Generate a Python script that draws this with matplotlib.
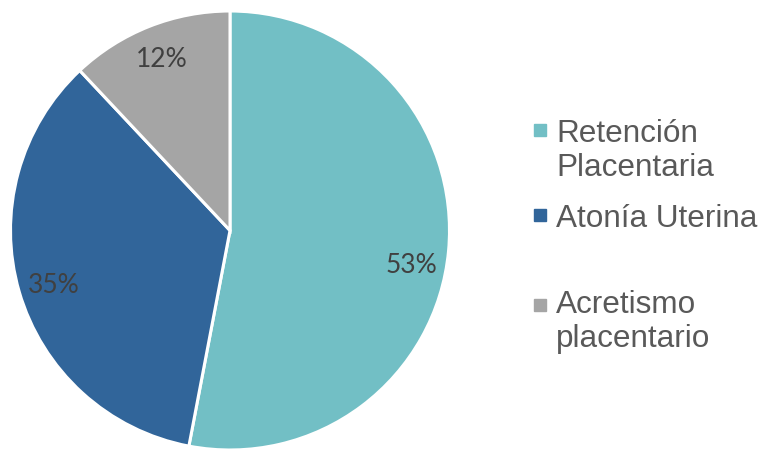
import matplotlib
matplotlib.use("Agg")
import matplotlib.pyplot as plt
import numpy as np

categories = ["Retención\nPlacentaria", "Atonía Uterina", "Acretismo\nplacentario"]
values = [53, 35, 12]
colors = ["#72BFC5", "#31659A", "#A5A5A5"]

W, H, DPI = 761, 449, 100
fig = plt.figure(figsize=(W / DPI, H / DPI), dpi=DPI)

cx, cy, r = 230, 230.5, 219.5
ax = fig.add_axes([(cx - r) / W, (H - cy - r) / H, 2 * r / W, 2 * r / H])

wedges, _ = ax.pie(values, colors=colors, startangle=90, counterclock=False,
                   wedgeprops=dict(edgecolor="white", linewidth=2.2))
ax.set_xlim(-1, 1)
ax.set_ylim(-1, 1)
ax.set_aspect("equal")
ax.axis("off")

# percentage labels, placed inside each wedge
label_font = dict(family="Lato", fontsize=19, color="#404040")
angle_shift = [-5.5, 1.3, 0.0]
start = 90.0
for v, dang in zip(values, angle_shift):
    span = 360.0 * v / sum(values)
    mid = start - span / 2 + dang
    start -= span
    d = 0.84
    x, y = d * np.cos(np.radians(mid)), d * np.sin(np.radians(mid))
    ax.text(x, y, f"{v}%", ha="center", va="center", **label_font)

# legend drawn as squares with text beside them (pixel positions from the top)
leg_font = dict(family="Liberation Sans", fontsize=22.7, color="#595959")
marker_y = [130, 215, 305]
first_baseline = [142, 227, 313]
line_step = 34
for c, lab, my, by in zip(colors, categories, marker_y, first_baseline):
    fig.patches.append(plt.Rectangle((534 / W, 1 - (my + 6) / H), 12 / W, 12 / H,
                                     transform=fig.transFigure, color=c))
    for i, line in enumerate(lab.split("\n")):
        fig.text(556 / W, 1 - (by + i * line_step) / H, line,
                 ha="left", va="baseline", **leg_font)

fig.savefig("out.png", dpi=DPI)
